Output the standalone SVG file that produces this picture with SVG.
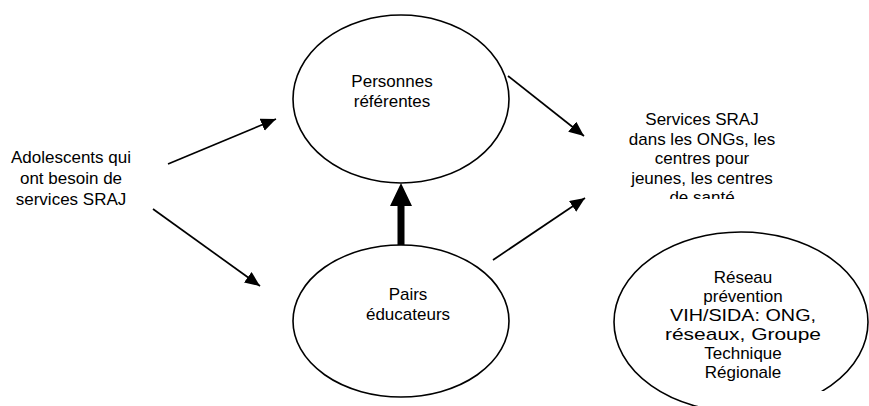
<svg xmlns="http://www.w3.org/2000/svg" width="869" height="406" viewBox="0 0 869 406">
<style>
  text { font-family: "Liberation Sans", Arial, sans-serif; font-size: 17px; fill: #000; text-anchor: middle; }
  .shape { fill: #fff; stroke: #000; stroke-width: 1.6; }
  .conn { stroke: #000; stroke-width: 1.7; fill: none; marker-end: url(#ah); }
</style>
<defs>
  <marker id="ah" markerUnits="userSpaceOnUse" markerWidth="16" markerHeight="14" refX="15" refY="6.5" orient="auto">
    <path d="M0,0 L15,6.5 L0,13 z" fill="#000"/>
  </marker>
  <clipPath id="clipSrv"><rect x="580" y="100" width="260" height="99"/></clipPath>
  <clipPath id="clipRes"><rect x="600" y="225" width="269" height="158"/></clipPath>
  <clipPath id="clipEll"><path d="M0,0 H869 V391 H780 V406 H0 Z"/></clipPath>
</defs>
<rect width="869" height="406" fill="#fff"/>

<g id="connectors">
  <line class="conn" x1="168" y1="164" x2="276" y2="119"/>
  <line class="conn" x1="153" y1="209" x2="260" y2="286"/>
  <line class="conn" x1="508" y1="76" x2="584" y2="136"/>
  <line class="conn" x1="493" y1="260" x2="585" y2="198"/>
  <path d="M397.5,245 V206 H390 L401,183 L412,206 H404.5 V245 Z" fill="#000"/>
</g>

<g id="node-adolescents">
  <text x="71" y="163">Adolescents qui</text>
  <text x="71" y="184">ont besoin de</text>
  <text x="71" y="205">services SRAJ</text>
</g>

<g id="node-personnes">
  <ellipse class="shape" cx="401" cy="99" rx="108" ry="84"/>
  <text x="392" y="87">Personnes</text>
  <text x="392" y="106.5">référentes</text>
</g>

<g id="node-pairs">
  <ellipse class="shape" cx="401" cy="321" rx="108" ry="76"/>
  <text x="408" y="300">Pairs</text>
  <text x="408" y="320">éducateurs</text>
</g>

<g id="node-services" clip-path="url(#clipSrv)">
  <text x="702" y="125">Services SRAJ</text>
  <text x="702" y="144.5">dans les ONGs, les</text>
  <text x="702" y="164">centres pour</text>
  <text x="702" y="183.5">jeunes, les centres</text>
  <text x="702" y="203">de santé</text>
</g>

<g id="node-reseau">
  <ellipse class="shape" cx="741" cy="322" rx="127" ry="90" clip-path="url(#clipEll)"/>
  <g clip-path="url(#clipRes)">
    <text x="743" y="282.5">Réseau</text>
    <text x="743" y="301.5">prévention</text>
    <text x="743" y="320.5" textLength="146" lengthAdjust="spacingAndGlyphs">VIH/SIDA: ONG,</text>
    <text x="743" y="339.5" textLength="156" lengthAdjust="spacingAndGlyphs">réseaux, Groupe</text>
    <text x="743" y="358.5">Technique</text>
    <text x="743" y="377.5">Régionale</text>
  </g>
</g>
</svg>
